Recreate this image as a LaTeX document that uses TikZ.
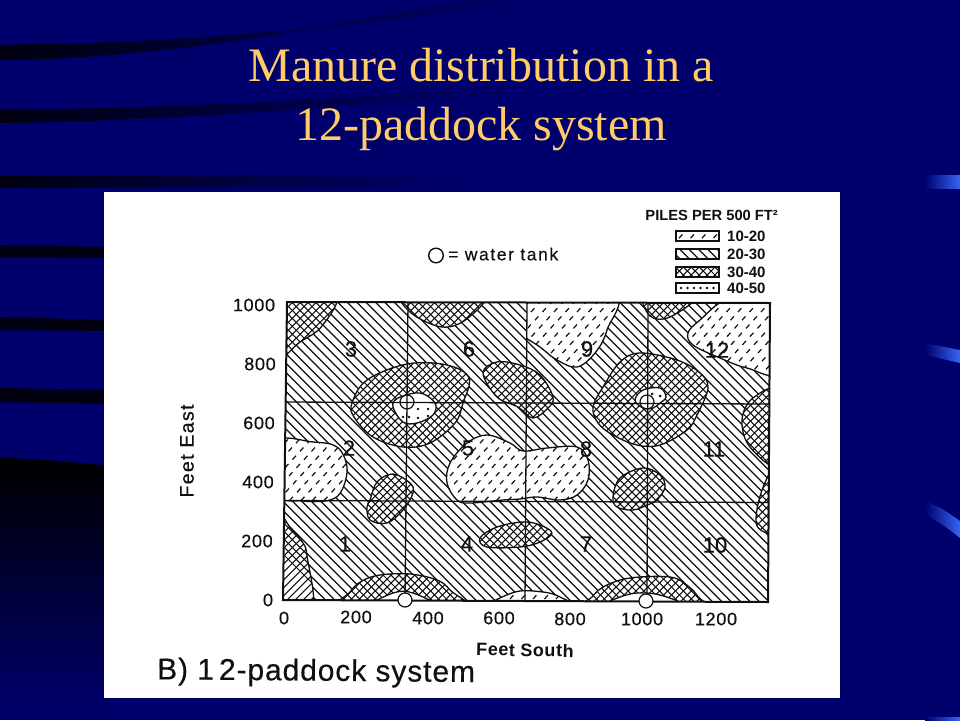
\documentclass[tikz,border=0pt]{standalone}
\usepackage{fontspec}
\setmainfont{Liberation Sans}
\newfontfamily\titlefont{Liberation Serif}
\newfontfamily\spaced[LetterSpace=9,FakeBold=0.3]{Liberation Sans}
\newfontfamily\tickfont[LetterSpace=4,FakeBold=0.5]{Liberation Sans}
\newfontfamily\numfont[FakeBold=0.4]{Liberation Sans}
\newfontfamily\southfont[LetterSpace=3]{Liberation Sans Bold}
\newfontfamily\eastfont[LetterSpace=7,FakeBold=0.7]{Liberation Sans}
\newfontfamily\capfont[LetterSpace=3,FakeBold=0.3]{Liberation Sans}
\definecolor{basec}{HTML}{00006C}
\definecolor{stripec}{HTML}{000010}
\definecolor{titlec}{HTML}{FFCC66}
\definecolor{bluec}{HTML}{3366F5}
\definecolor{inkc}{HTML}{101010}
\newcommand{\fsz}[1]{\fontsize{#1}{#1}\selectfont}
\newcommand{\backlines}{\draw[hl] \foreach \i in {-40,...,50}{ (270+\i*9.4,225) -- ++(400,400) };}
\newcommand{\crosslines}{%
  \draw[xl] \foreach \i in {-40,...,112}{ (270+\i*7.9,225) -- ++(400,400) };%
  \draw[xl] \foreach \i in {0,...,120}{ (283+\i*7.9,225) -- ++(-400,400) };}
\newcommand{\dashlines}{\draw[dl] \foreach \r in {0,...,47}{ \foreach \c in {-16,...,42}{ (284+\c*11.5+\r*4,230+\r*8.2) -- ++(3.4,-3.8) } };}
\newcommand{\crossblob}[1]{%
  \begin{scope}\clip plot[smooth cycle,tension=.6] coordinates {#1};
    \fill[white] (270,220) rectangle (790,620);\crosslines\end{scope}
  \draw[blobline] plot[smooth cycle,tension=.6] coordinates {#1};}
\newcommand{\dashblob}[1]{%
  \begin{scope}\clip plot[smooth cycle,tension=.6] coordinates {#1};
    \fill[white] (270,220) rectangle (790,620);\dashlines\end{scope}
  \draw[blobline] plot[smooth cycle,tension=.6] coordinates {#1};}
\newcommand{\whiteblob}[1]{%
  \fill[white] plot[smooth cycle,tension=.6] coordinates {#1};
  \draw[blobline] plot[smooth cycle,tension=.6] coordinates {#1};}
\tikzset{
  x=1pt,y=-1pt,
  hl/.style={draw=inkc,line width=1.25pt},
  xl/.style={draw=inkc,line width=1.05pt},
  dl/.style={draw=inkc,line width=1.2pt},
  blobline/.style={draw=inkc,line width=1.3pt},
  gridline/.style={draw=inkc,line width=1.3pt},
  frameline/.style={draw=inkc,line width=2pt},
  tank/.style={draw=inkc,line width=1.2pt},
  tick/.style={text=inkc,font=\tickfont\fsz{18},inner sep=0pt},
  num/.style={text=inkc,font=\numfont\fsz{22},inner sep=0pt},
  leg/.style={text=inkc,font=\bfseries\fsz{15},inner sep=0pt,anchor=west},
  swatch/.style={draw=inkc,line width=1.3pt},
  stripe/.style={left color=stripec,right color=basec,draw=none},
  glint/.style={left color=basec,right color=bluec,draw=none},
}
\begin{document}
\begin{tikzpicture}
\useasboundingbox (0,0) rectangle (960,720);
\fill[basec] (0,0) rectangle (960,720);
% dark swooshes
\fill[stripe] (0,45) .. controls (200,43) and (380,25) .. (520,0) -- (470,0) .. controls (330,25) and (180,58) .. (0,60) -- cycle;
\fill[stripe] (0,110) .. controls (180,108) and (350,100) .. (500,86) -- (500,92) .. controls (350,106) and (180,120) .. (0,123) -- cycle;
\fill[stripe] (0,176) -- (450,175) -- (450,186) -- (0,188) -- cycle;
\fill[stripec] (0,245) -- (110,247) -- (110,258) -- (0,257) -- cycle;
\fill[stripec] (0,317) -- (110,320) -- (110,331) -- (0,330) -- cycle;
\fill[stripec] (0,388) -- (110,390) -- (110,404) -- (0,402) -- cycle;
\fill[top color=black,bottom color=basec] (0,458) .. controls (40,459) and (80,463) .. (110,466) -- (110,712) -- (0,712) -- cycle;
% right blue glints
\fill[glint] (925,175) -- (960,175) -- (960,188) -- (925,188) -- cycle;
\fill[glint] (925,343) -- (960,350) -- (960,363) -- (925,355) -- cycle;
\fill[glint] (925,501) .. controls (940,506) and (950,514) .. (960,521) -- (960,538) .. controls (950,530) and (940,522) .. (925,515) -- cycle;
\fill[glint] (925,717) -- (960,717) -- (960,720) -- (925,720) -- cycle;
% title
\node[text=titlec,font=\titlefont\fsz{48},inner sep=0pt,anchor=base] (t1) at (481,81) {Manure distribution in a};
\node[text=titlec,font=\titlefont\fsz{48},inner sep=0pt,anchor=base] (t2) at (481,140) {12-paddock system};
% panel
\fill[white] (104,192) rectangle (840,698);
% map
\begin{scope}
\clip (287,302) -- (770,303) -- (768,602) -- (283,600) -- cycle;
\backlines
% crosshatched 30-40
\crossblob{(275,295) (335,295) (322,326) (300,342) (275,358)}
\crossblob{(405,292) (410,312) (442,327) (468,318) (484,292)}
\crossblob{(352,403) (367,380) (407,364) (447,365) (469,378) (463,403) (455,423) (430,443) (403,447) (373,437) (354,417)}
\crossblob{(483,373) (497,362) (520,365) (540,375) (553,397) (548,408) (533,418) (518,407) (497,397)}
\crossblob{(370,500) (377,482) (393,474) (410,483) (413,493) (403,510) (387,523) (370,520) (367,507)}
\crossblob{(275,516) (292,530) (303,543) (307,556) (312,610) (275,610)}
\crossblob{(340,612) (350,592) (362,581) (380,575) (410,574) (437,580) (450,590) (465,612)}
\crossblob{(480,538) (497,527) (523,522) (540,525) (552,533) (540,542) (520,547) (487,547)}
\crossblob{(593,407) (603,387) (620,362) (640,353) (677,360) (700,373) (708,388) (697,415) (687,430) (660,445) (637,445) (613,435) (598,423)}
\crossblob{(780,392) (753,398) (742,420) (750,447) (780,465)}
\crossblob{(613,497) (620,478) (643,468) (660,475) (665,487) (657,500) (647,505) (633,510) (617,507)}
\crossblob{(646,295) (650,316) (670,317) (697,295)}
\crossblob{(582,612) (592,597) (605,586) (630,578) (670,577) (688,586) (698,597) (704,612)}
\crossblob{(780,462) (762,490) (757,526) (780,528)}
% dashed 10-20
\dashblob{(275,442) (313,442) (337,447) (347,467) (342,490) (330,500) (303,501) (275,494)}
\dashblob{(447,483) (450,463) (467,443) (487,435) (510,443) (523,451) (547,448) (577,447) (588,460) (588,480) (577,495) (560,500) (537,497) (520,499) (503,500) (470,503) (457,500)}
\begin{scope}
\clip (527,290) rectangle (640,380);
\dashblob{(500,292) (612,292) (607,330) (595,353) (577,367) (557,360) (540,347) (515,328)}
\end{scope}
\dashblob{(780,298) (730,298) (700,320) (688,333) (693,345) (720,358) (747,368) (780,371)}
\dashblob{(492,607) (515,592) (543,592) (560,597) (570,607)}
% white centres
\whiteblob{(372,607) (393,593) (413,593) (435,607)}
\whiteblob{(606,607) (630,594) (660,595) (682,607)}
\whiteblob{(393,407) (398,398) (420,393) (435,403) (433,415) (417,423) (403,422)}
\fill[inkc] (418,409) circle (1.4) (428,409) circle (1.4) (418,418) circle (1.4) (428,416) circle (1.4) (403,417) circle (1.4) (409,417) circle (1.4);
\whiteblob{(635,400) (643,390) (660,388) (666,397) (660,403) (653,408) (643,408)}
\fill[inkc] (660,396) circle (1.5) (652,394) circle (1.5);
\end{scope}
% grid
\draw[gridline] (408,302) -- (405,601);
\draw[gridline] (527,303) -- (525,601);
\draw[gridline] (648,303) -- (647,602);
\draw[gridline] (286,402) -- (770,404);
\draw[gridline] (284,500.5) -- (769,502.5);
\draw[frameline] (287,302) -- (770,303) -- (768,602) -- (283,600) -- cycle;
% tanks
\draw[tank] (407,402) circle (7);
\draw[tank] (647,402) circle (7);
\draw[tank,fill=white] (405,600) circle (7);
\draw[tank,fill=white] (646,601) circle (7);
% paddock numbers
\node[num] (n3) at (351,349) {3};
\node[num] (n6) at (469,349) {6};
\node[num] (n9) at (587,349) {9};
\node[num] (n12) at (717,350) {12};
\node[num] (n2) at (349,448) {2};
\node[num] (n5) at (468,448) {5};
\node[num] (n8) at (586,449) {8};
\node[num] (n11) at (714,449) {11};
\node[num] (n1) at (345,544) {1};
\node[num] (n4) at (467,544) {4};
\node[num] (n7) at (586,544) {7};
\node[num] (n10) at (715,545) {10};
% y ticks
\node[tick] (y1000) at (254,305) {1000};
\node[tick] (y800) at (260,364) {800};
\node[tick] (y600) at (259,423) {600};
\node[tick] (y400) at (258,482) {400};
\node[tick] (y200) at (257,541) {200};
\node[tick] (y0) at (268,600) {0};
% x ticks
\node[tick] (x0) at (284,618) {0};
\node[tick] (x200) at (356,617) {200};
\node[tick] (x400) at (428,618) {400};
\node[tick] (x600) at (499,618) {600};
\node[tick] (x800) at (570,619) {800};
\node[tick] (x1000) at (642,619) {1000};
\node[tick] (x1200) at (716,619) {1200};
% axis titles
\node[text=inkc,font=\southfont\fsz{18},inner sep=0pt,rotate=-1] (xt) at (525,650) {Feet South};
\node[text=inkc,font=\eastfont\fsz{19.5},inner sep=0pt,rotate=90] (yt) at (187,451) {Feet East};
\node[text=inkc,font=\capfont\fsz{30},inner sep=0pt,anchor=west,rotate=-.5] (cap) at (157,671.5) {B) 1\,2-paddock system};
% legend top
\draw[tank,line width=1.4pt] (436,255.5) circle (7.3);
\node[text=inkc,font=\spaced\fsz{17.5},inner sep=0pt,anchor=west] (wt) at (448,254) {= water tank};
\node[text=inkc,font=\bfseries\fsz{14.7},inner sep=0pt,anchor=east] (lh) at (778,215) {PILES PER 500 FT²};
% legend swatches
\begin{scope}\clip (676,231) rectangle (719,241);\dashlines\end{scope}
\draw[swatch] (676,231) rectangle (719,241);
\begin{scope}\clip (676,249) rectangle (719,259);\backlines\end{scope}
\draw[swatch] (676,249) rectangle (719,259);
\begin{scope}\clip (676,267) rectangle (719,277);\crosslines\end{scope}
\draw[swatch] (676,267) rectangle (719,277);
\draw[swatch] (676,283) rectangle (719,293);
\fill[inkc] \foreach \i in {0,...,5}{ (681+\i*6.5,288) circle (1.4) };
\node[leg] (l1) at (727,236) {10-20};
\node[leg] (l2) at (727,254) {20-30};
\node[leg] (l3) at (727,272) {30-40};
\node[leg] (l4) at (727,288) {40-50};
\end{tikzpicture}
\end{document}
